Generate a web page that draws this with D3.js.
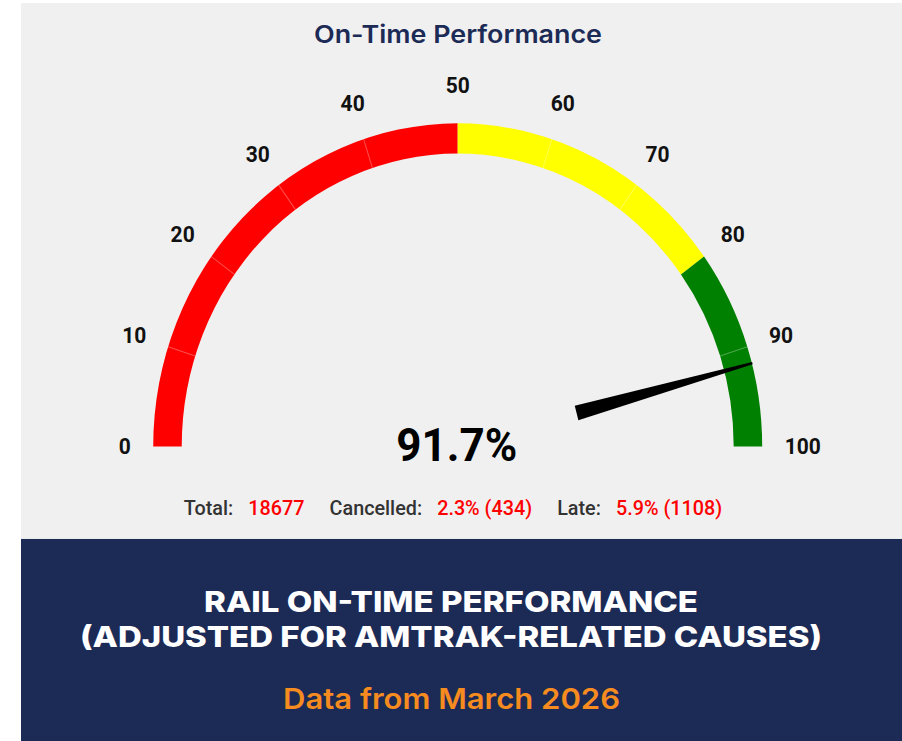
<!DOCTYPE html>
<html><head><meta charset="utf-8">
<script src="https://cdn.jsdelivr.net/npm/d3@7"></script>
<style>html,body{margin:0;padding:0;background:#fff;overflow:hidden}</style>
</head><body><svg id="c"></svg>
<script>
// ---- data ----
const chartTitle = "On-Time Performance";
const gaugeValue = 91.7;
const tickValues = [0, 10, 20, 30, 40, 50, 60, 70, 80, 90, 100];
const bandStops = [0, 50, 80, 100];
const bandColors = ["#ff0000", "#ffff00", "#008000"];
const statLabels = ["Total:", "Cancelled:", "Late:"];
const statValues = ["18677", "2.3% (434)", "5.9% (1108)"];
const bannerLines = ["RAIL ON-TIME PERFORMANCE", "(ADJUSTED FOR AMTRAK-RELATED CAUSES)"];
const bannerSub = "Data from March 2026";

// ---- layout ----
const W = 902, H = 698; // logical; stretched to 741 px tall
const svg = d3.select("#c").attr("width", 902).attr("height", 741)
  .attr("viewBox", `0 0 ${W} ${H}`).attr("preserveAspectRatio", "none");

const panelTop = 2.8, bandTop = 507.7, left = 21;
svg.append("rect").attr("x", left).attr("y", panelTop).attr("width", W - left).attr("height", bandTop - panelTop).attr("fill", "#f0f0f0");
svg.append("rect").attr("x", left).attr("y", bandTop).attr("width", W - left).attr("height", H - bandTop).attr("fill", "#1c2a56");

const headFont = "Inter, 'Open Sans', sans-serif";
svg.append("text").attr("x", 458).attr("y", 40.5).attr("text-anchor", "middle")
  .attr("font-family", headFont).attr("font-weight", 600).attr("font-size", 23)
  .attr("fill", "#1c2a56").attr("textLength", 288).attr("lengthAdjust", "spacingAndGlyphs")
  .text(chartTitle);

const cx = 457.7, cy = 420.7, rOuter = 304.5, rInner = 276;
const ang = d3.scaleLinear().domain([0, 100]).range([-Math.PI / 2, Math.PI / 2]);
const pt = (v, r) => [cx + r * Math.sin(ang(v)), cy - r * Math.cos(ang(v))];
const g = svg.append("g");

const arc = d3.arc().innerRadius(rInner).outerRadius(rOuter);
const bands = bandColors.map((c, i) => ({ from: bandStops[i], to: bandStops[i + 1], color: c }));
g.selectAll("path.band").data(bands).join("path").attr("class", "band")
  .attr("transform", `translate(${cx},${cy})`)
  .attr("d", d => arc({ startAngle: ang(d.from), endAngle: ang(d.to) }))
  .attr("fill", d => d.color);

// separators
const seps = tickValues.filter(v => !bandStops.includes(v));
g.selectAll("line.sep").data(seps).join("line").attr("class", "sep")
  .attr("x1", d => pt(d, rInner)[0]).attr("y1", d => pt(d, rInner)[1])
  .attr("x2", d => pt(d, rOuter)[0]).attr("y2", d => pt(d, rOuter)[1])
  .attr("stroke", "rgba(255,255,255,0.3)").attr("stroke-width", 1);

// tick labels
const labelR = 340, endR = 327;
g.selectAll("text.tick").data(tickValues).join("text").attr("class", "tick")
  .attr("x", d => d === 0 ? cx - endR : d === 100 ? cx + endR : pt(d, labelR)[0])
  .attr("y", d => (d === 0 || d === 100) ? cy : pt(d, labelR)[1])
  .attr("text-anchor", d => d === 0 ? "end" : d === 100 ? "start" : "middle")
  .attr("dominant-baseline", "central")
  .attr("font-family", "Roboto, sans-serif").attr("font-weight", 700).attr("font-size", 21)
  .attr("fill", "#111").text(d => d);

// needle
const nBase = 123, nTip = 305, halfBase = 7, halfTip = 1;
const a = ang(gaugeValue);
const ux = Math.sin(a), uy = -Math.cos(a), px = -uy, py = ux;
const needle = [
  [cx + ux * nBase + px * halfBase, cy + uy * nBase + py * halfBase],
  [cx + ux * nTip + px * halfTip, cy + uy * nTip + py * halfTip],
  [cx + ux * nTip - px * halfTip, cy + uy * nTip - py * halfTip],
  [cx + ux * nBase - px * halfBase, cy + uy * nBase - py * halfBase]
];
g.append("path").attr("d", d3.line()(needle) + "Z").attr("fill", "#000");

// value
g.append("text").attr("x", 456.7).attr("y", 434.7).attr("text-anchor", "middle")
  .attr("font-family", "Roboto, sans-serif").attr("font-weight", 700).attr("font-size", 44)
  .attr("fill", "#000").text(gaugeValue.toFixed(1) + "%");

// stats
const st = svg.append("text").attr("x", 453).attr("y", 485).attr("text-anchor", "middle")
  .attr("font-family", "Roboto, sans-serif").attr("font-weight", 500).attr("font-size", 19.8);
statLabels.forEach((l, i) => {
  st.append("tspan").attr("fill", "#333").attr("dx", i === 0 ? 0 : 25).text(l);
  st.append("tspan").attr("fill", "#ff0000").attr("dx", 15).text(statValues[i]);
});

// banner
const bannerFont = "Inter, 'Open Sans', sans-serif";
const bannerBase = [576.5, 609.5];
const bannerLen = [494, 742];
bannerLines.forEach((t, i) => {
  svg.append("text").attr("x", 451).attr("y", bannerBase[i]).attr("text-anchor", "middle")
    .attr("font-family", bannerFont).attr("font-weight", 800).attr("font-size", 27)
    .attr("fill", "#ffffff").attr("textLength", bannerLen[i]).attr("lengthAdjust", "spacingAndGlyphs")
    .text(t);
});
svg.append("text").attr("x", 451.5).attr("y", 668).attr("text-anchor", "middle")
  .attr("font-family", bannerFont).attr("font-weight", 600).attr("font-size", 27)
  .attr("fill", "#f68b1f").attr("textLength", 337).attr("lengthAdjust", "spacingAndGlyphs")
  .text(bannerSub);
</script></body></html>
